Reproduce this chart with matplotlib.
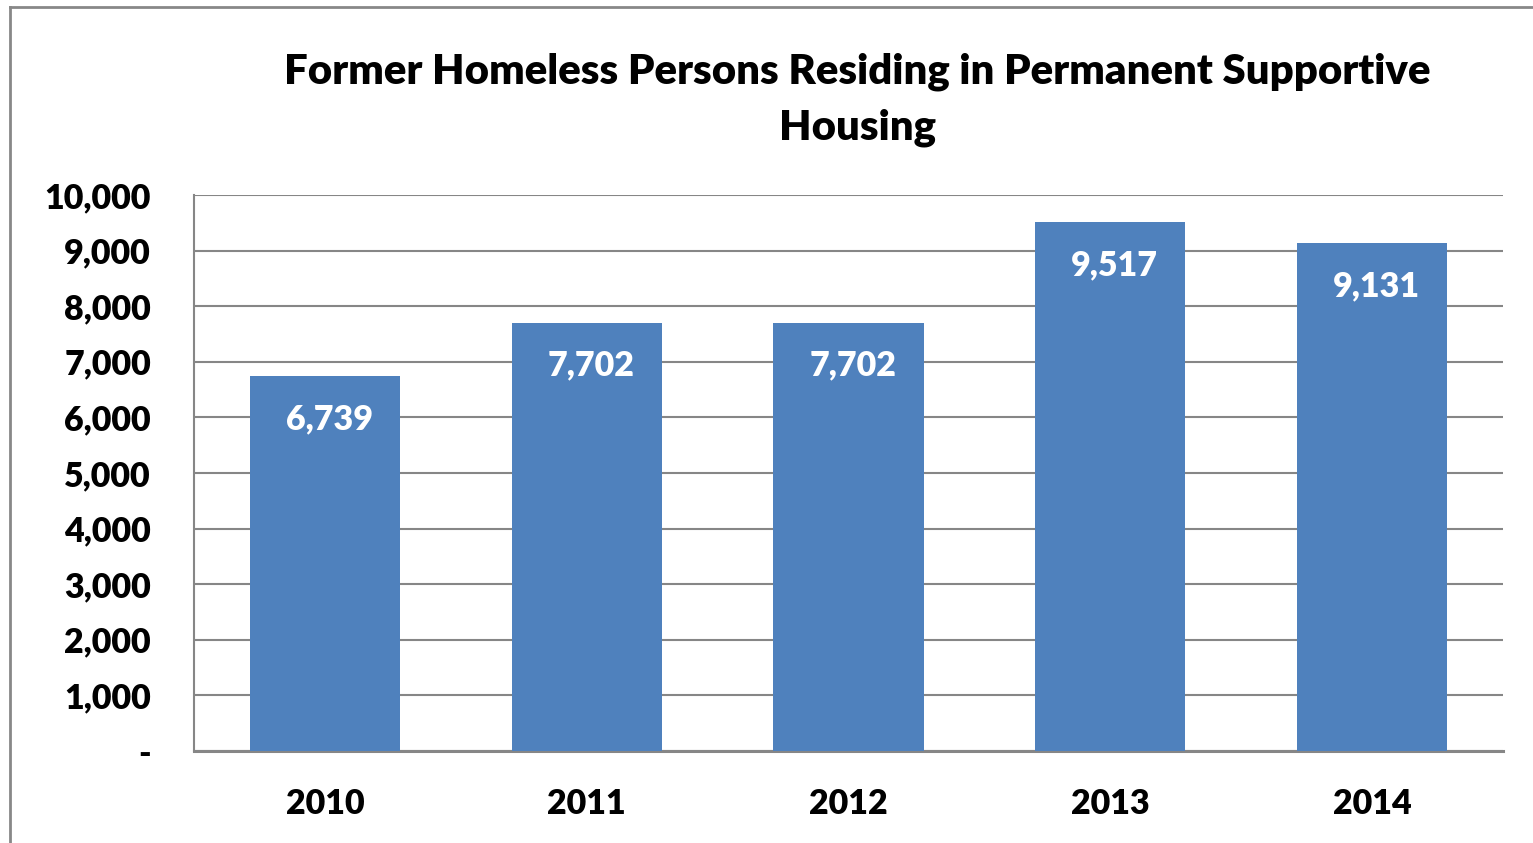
import matplotlib
matplotlib.use("Agg")
import matplotlib.pyplot as plt
from matplotlib.lines import Line2D
from matplotlib.ticker import FuncFormatter

years = ["2010", "2011", "2012", "2013", "2014"]
values = [6739, 7702, 7702, 9517, 9131]
yticks = [0, 1000, 2000, 3000, 4000, 5000, 6000, 7000, 8000, 9000, 10000]
title = "Former Homeless Persons Residing in Permanent Supportive\nHousing"

plt.rcParams['font.family'] = ['Lato', 'DejaVu Sans']
W = "heavy"

fig = plt.figure(figsize=(15.33, 8.43), dpi=100)
ax = fig.add_axes([194/1533, 1-751/843, (1503-194)/1533, (751-195)/843])

x = list(range(len(years)))
bars = ax.bar(x, values, width=0.573, color="#4F81BD", zorder=3)
ax.set_xlim(-0.5, len(years)-0.5)
ax.set_ylim(0, 10000)
ax.set_yticks(yticks)
ax.yaxis.set_major_formatter(FuncFormatter(lambda v, p: "-" if v == 0 else f"{int(v):,}"))
ax.set_xticks(x)
ax.set_xticklabels(years)
ax.grid(axis="y", color="#868686", linewidth=1.5, zorder=0)
for s in ["top", "right"]:
    ax.spines[s].set_visible(False)
ax.spines["left"].set_color("#868686")
ax.spines["left"].set_linewidth(1.5)
ax.spines["bottom"].set_color("#868686")
ax.spines["bottom"].set_linewidth(2.2)
ax.tick_params(axis="both", length=0, labelsize=24.5)
ax.tick_params(axis="y", pad=31)
ax.tick_params(axis="x", pad=27)
for lbl in ax.get_xticklabels() + ax.get_yticklabels():
    lbl.set_fontweight(W)

for b, v in zip(bars, values):
    ax.annotate(f"{v:,}", (b.get_x() + b.get_width()/2, v), xytext=(3, -31),
                textcoords="offset points", ha="center", va="center",
                color="white", fontsize=24.5, fontweight=W, zorder=4)

fig.text(857/1533, 1-100/843, title, ha="center", va="center", fontsize=30.2,
         fontweight=W, linespacing=1.56)

fig.add_artist(Line2D([10/1533, 10/1533], [0, 1-7/843], color="#888888", lw=2, transform=fig.transFigure))
fig.add_artist(Line2D([10/1533, 1], [1-7/843, 1-7/843], color="#888888", lw=2, transform=fig.transFigure))

fig.savefig("out.png", dpi=100)
